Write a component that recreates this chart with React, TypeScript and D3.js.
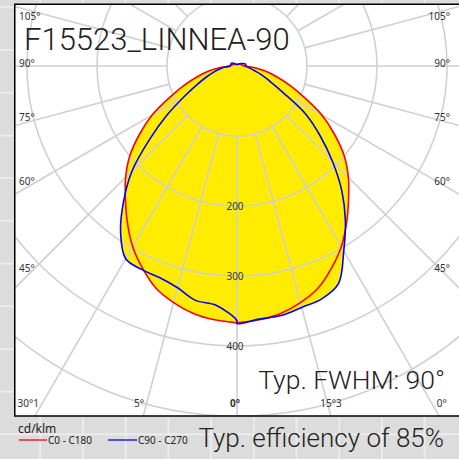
import React from 'react';
import * as d3 from 'd3';

// gamma angles (deg from nadir) and luminous intensity (cd/klm)
const gammaDeg = [0, 5, 10, 15, 20, 25, 30, 35, 40, 45, 50, 55, 60, 65, 70, 75, 80, 85, 90, 105, 120, 150, 180];
const c0c180 = [367, 364, 359, 350, 338, 319, 298, 273, 248, 225, 200, 170, 140, 106, 80, 58, 40, 24, 10, 7, 5, 3, 2];
const c90 = [368, 363, 362, 357, 354, 343, 305, 270, 233, 193, 155, 120, 76, 52, 38, 26, 19, 15, 13, 12, 7, 3, 2];
const c270 = [364, 343, 340, 328, 322, 321, 318, 290, 252, 212, 163, 122, 87, 63, 47, 35, 25, 17, 10, 9, 8.5, 3, 2];

const circleValues = [100, 200, 300, 400, 500, 600];
const circleLabels = [200, 300, 400];
const spokeAngles = d3.range(0, 360, 15);
const sideLabelAngles = [45, 60, 75, 90, 105];
const bottomLabelGamma = [-30, -15, 0, 15, 30];
const bottomLabelText = ['30°1', '5°', '0°', '15°3', '0°'];

const title = 'F15523_LINNEA-90';
const fwhmText = 'Typ. FWHM: 90°';
const effText = 'Typ. efficiency of 85%';
const unitText = 'cd/klm';
const legendNames = ['C0 - C180', 'C90 - C270'];
const legendColors = ['#ff0000', '#0000ff'];

const W = 459, H = 459;
const cx = 237, cy = 66;
const box = { x: 14.75, y: 4.25, w: 470, h: 411.75 };

const rScale = d3.scaleLinear().domain([0, 100]).range([0, 70]);
const toRad = (d: number) => (d * Math.PI) / 180;

function closedPoints(right: number[], left: number[]): [number, number][] {
  const pts: [number, number][] = [];
  const n = gammaDeg.length;
  for (let i = 0; i < n - 1; i++) pts.push([Math.PI - toRad(gammaDeg[i]), rScale(right[i])]);
  pts.push([0, rScale(right[n - 1])]);
  for (let i = n - 2; i >= 0; i--) pts.push([Math.PI + toRad(gammaDeg[i]), rScale(left[i])]);
  return pts;
}

const radial = d3
  .lineRadial<[number, number]>()
  .angle((d) => d[0])
  .radius((d) => d[1])
  .curve(d3.curveCatmullRomClosed.alpha(0.5));

export default function App() {
  const redPath = radial(closedPoints(c0c180, c0c180)) || '';
  const bluePath = radial(closedPoints(c90, c270)) || '';
  const gridColor = '#d0d0d0';
  const bgV = d3.range(40.3, W, 42.7);
  const bgH = d3.range(7.3, H, 42.7);
  const labelFont = "'Noto Sans', sans-serif";
  const bigFont = "Roboto, sans-serif";

  return (
    <svg width={W} height={H} style={{ position: 'absolute', left: 0, top: 0 }}>
      <defs>
        <clipPath id="boxclip">
          <rect x={box.x} y={box.y} width={box.w} height={box.h} />
        </clipPath>
      </defs>
      {/* background */}
      <rect x={0} y={0} width={W} height={H} fill="#dcdcdc" />
      {bgV.map((x, i) => (
        <line key={'bv' + i} x1={x} x2={x} y1={0} y2={H} stroke="#ebebeb" strokeWidth={2} />
      ))}
      {bgH.map((y, i) => (
        <line key={'bh' + i} x1={0} x2={W} y1={y} y2={y} stroke="#ebebeb" strokeWidth={2} />
      ))}
      <g clipPath="url(#boxclip)">
        <rect x={box.x} y={box.y} width={box.w} height={box.h} fill="#ffffff" />
        <g transform={`translate(${cx},${cy})`}>
          <path d={redPath} fill="#ffec00" stroke="none" />
          <path d={bluePath} fill="#ffec00" stroke="none" />
          {circleValues.map((v) => (
            <circle key={'c' + v} r={rScale(v)} fill="none" stroke={gridColor} strokeWidth={1.6} />
          ))}
          {spokeAngles.map((g) => (
            <line
              key={'s' + g}
              x1={Math.sin(toRad(g)) * rScale(100)}
              y1={Math.cos(toRad(g)) * rScale(100)}
              x2={Math.sin(toRad(g)) * rScale(1000)}
              y2={Math.cos(toRad(g)) * rScale(1000)}
              stroke={gridColor}
              strokeWidth={1.6}
            />
          ))}
          <path d={redPath} fill="none" stroke={legendColors[0]} strokeWidth={1.6} />
          <path d={bluePath} fill="none" stroke={legendColors[1]} strokeWidth={1.6} />
          {circleLabels.map((v) => (
            <text
              key={'cl' + v}
              x={-2}
              y={rScale(v)}
              textAnchor="middle"
              dominantBaseline="central"
              fontFamily={labelFont}
              fontSize={10}
              fill="#333"
            >
              {v}
            </text>
          ))}
        </g>
        {sideLabelAngles.map((g) => {
          const y = Math.max(16, cy - 3.5 + 205 / Math.tan(toRad(g)));
          return (
            <g key={'sl' + g}>
              <text x={19} y={y} dominantBaseline="central" fontFamily={labelFont} fontSize={10} fill="#333">
                {g}°
              </text>
              <text x={450} y={y} textAnchor="end" dominantBaseline="central" fontFamily={labelFont} fontSize={10} fill="#333">
                {g}°
              </text>
            </g>
          );
        })}
        {bottomLabelGamma.map((g, i) => (
          <text
            key={'bl' + i}
            x={cx + 358 * Math.tan(toRad(g)) - 2}
            y={403}
            textAnchor="middle"
            dominantBaseline="central"
            fontFamily={labelFont}
            fontSize={10}
            fontWeight={g === 0 ? 'bold' : 'normal'}
            fill="#333"
          >
            {bottomLabelText[i]}
          </text>
        ))}
        <text x={24} y={50} fontFamily={bigFont} fontWeight={300} fontSize={31} fill="#222">
          {title}
        </text>
        <text x={445} y={389} textAnchor="end" fontFamily={bigFont} fontWeight={300} fontSize={26.5} fill="#222">
          {fwhmText}
        </text>
      </g>
      <rect x={box.x} y={box.y} width={box.w} height={box.h} fill="none" stroke="#000" strokeWidth={1.5} />
      <text x={444} y={447} textAnchor="end" fontFamily={bigFont} fontWeight={300} fontSize={26} fill="#222">
        {effText}
      </text>
      <text x={18} y={433} fontFamily={labelFont} fontSize={12} fill="#222">
        {unitText}
      </text>
      {legendNames.map((name, i) => (
        <g key={'lg' + i}>
          <line x1={19 + i * 89} x2={47 + i * 90} y1={440} y2={440} stroke={legendColors[i]} strokeWidth={1.3} />
          <text x={48 + i * 90} y={444} fontFamily={labelFont} fontSize={10} fill="#222">
            {name}
          </text>
        </g>
      ))}
    </svg>
  );
}
